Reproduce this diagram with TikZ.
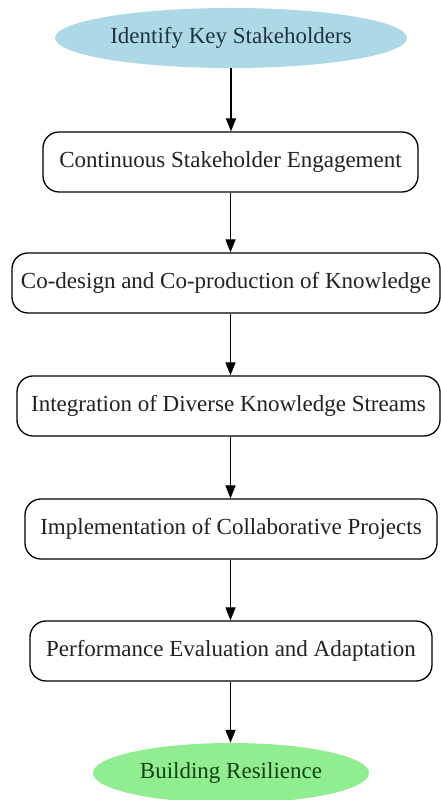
\documentclass[tikz,border=0pt]{standalone}
\usepackage{fontspec}
\setmainfont{Liberation Serif}
\usetikzlibrary{shapes.geometric,arrows.meta}
\definecolor{KeyBlue}{HTML}{ADD8E6}
\definecolor{KeyGreen}{HTML}{90EE90}
\definecolor{KeyBlueText}{HTML}{1F3440}
\definecolor{KeyGreenText}{HTML}{124212}
\definecolor{StepText}{HTML}{222222}
\tikzset{
	stepbox/.style={draw, line width=1.3pt, rounded corners=16pt, minimum height=60pt,
		inner sep=0pt, text=StepText, font=\fontsize{23}{28}\selectfont},
	endpoint/.style={ellipse, minimum height=60pt, inner sep=0pt,
		font=\fontsize{23}{28}\selectfont},
	flow/.style={line width=1.3pt, -{Triangle[length=13pt, width=10pt]}}
}

\begin{document}
\begin{tikzpicture}[x=1pt, y=1pt]
%		\draw [step=10, gray, thin, opacity=0.5] (0,0) grid (441,800);
		\clip (0,0) rectangle (441,800);
		\fill[white] (0,0) rectangle (441,800);
		
		\node[endpoint, fill=KeyBlue, text=KeyBlueText, minimum width=352pt] (stakeholders) at (231, 762) {Identify Key Stakeholders};
		
		\node[stepbox, minimum width=375pt] (engagement) at (230.5, 638) {Continuous Stakeholder Engagement};
		\node[stepbox, minimum width=428pt] (codesign) at (226, 517) {Co-design and Co-production of Knowledge};
		\node[stepbox, minimum width=423pt] (integration) at (228.5, 394) {Integration of Diverse Knowledge Streams};
		\node[stepbox, minimum width=412pt] (implementation) at (231, 271) {Implementation of Collaborative Projects};
		\node[stepbox, minimum width=402pt] (evaluation) at (231, 149) {Performance Evaluation and Adaptation};
		
		\node[endpoint, fill=KeyGreen, text=KeyGreenText, minimum width=276pt] (resilience) at (231, 27) {Building Resilience};
		
		\draw[flow] (stakeholders.south) -- (stakeholders.south |- engagement.north);
		\draw[flow] (engagement.south) -- (engagement.south |- codesign.north);
		\draw[flow] (engagement.south |- codesign.south) -- (engagement.south |- integration.north);
		\draw[flow] (engagement.south |- integration.south) -- (engagement.south |- implementation.north);
		\draw[flow] (engagement.south |- implementation.south) -- (engagement.south |- evaluation.north);
		\draw[flow] (engagement.south |- evaluation.south) -- (engagement.south |- resilience.north);
		
	\end{tikzpicture}
\end{document}
